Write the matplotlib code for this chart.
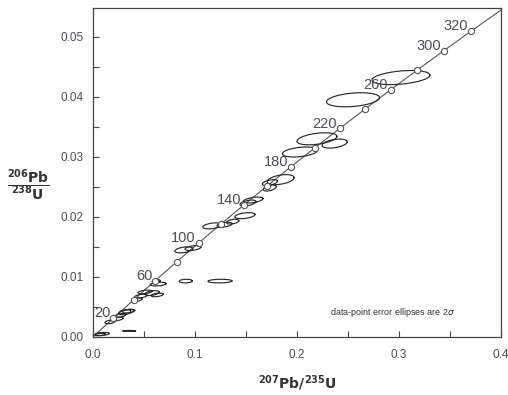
import numpy as np
import matplotlib
matplotlib.use('Agg')
import matplotlib.pyplot as plt

plt.rcParams['font.family'] = ['Liberation Sans', 'DejaVu Sans']

# concordia ages (Ma) and decay constants (1/yr)
lam238 = 1.55125e-10
lam235 = 9.8485e-10
tick_ages = [20, 40, 60, 80, 100, 120, 140, 160, 180, 200, 220, 240, 260, 280, 300, 320]
label_ages = [20, 60, 100, 140, 180, 220, 260, 300, 320]

# error ellipses: centre (207/235, 206/238), half-widths (2 sigma), correlation
ell_x = [0.302, 0.255, 0.2196, 0.237, 0.203, 0.184, 0.1735, 0.1735, 0.157, 0.152,
         0.149, 0.117, 0.129, 0.137, 0.089, 0.098, 0.091, 0.1245, 0.064, 0.062,
         0.051, 0.058, 0.063, 0.043, 0.033, 0.031, 0.035, 0.0235, 0.0167, 0.009,
         0.007, 0.0353, 0.047, 0.027]
ell_y = [0.0432, 0.0395, 0.0330, 0.0322, 0.0308, 0.0262, 0.0257, 0.0248, 0.0228, 0.0223,
         0.0202, 0.0185, 0.0187, 0.0192, 0.0145, 0.0148, 0.0093, 0.0093, 0.0088, 0.0093,
         0.0075, 0.0073, 0.0070, 0.0062, 0.0042, 0.0041, 0.0043, 0.0030, 0.0025, 0.0005,
         0.0004, 0.0010, 0.0068, 0.0036]
ell_sx = [0.0284, 0.026, 0.0196, 0.0123, 0.0172, 0.0132, 0.0074, 0.0064, 0.0098, 0.0078,
          0.0098, 0.0093, 0.0074, 0.006, 0.0088, 0.0078, 0.0064, 0.0118, 0.0078, 0.004,
          0.0069, 0.0069, 0.006, 0.005, 0.0069, 0.006, 0.006, 0.006, 0.005, 0.0069,
          0.005, 0.0064, 0.006, 0.005]
ell_sy = [0.00117, 0.00117, 0.0010, 0.00075, 0.00083, 0.00083, 0.0005, 0.0005, 0.0005, 0.0005,
          0.0005, 0.0005, 0.0004, 0.0004, 0.0005, 0.0004, 0.0003, 0.0003, 0.0003, 0.00025,
          0.0003, 0.0004, 0.0003, 0.0003, 0.0004, 0.0004, 0.0003, 0.0003, 0.0003, 0.00025,
          0.0002, 0.00008, 0.0003, 0.0003]
ell_rho = [0.35, 0.3, 0.4, 0.4, 0.35, 0.4, 0.5, 0.5, 0.5, 0.5,
           0.4, 0.4, 0.4, 0.4, 0.4, 0.4, 0.1, 0.1, 0.3, 0.3,
           0.4, 0.4, 0.4, 0.4, 0.4, 0.4, 0.4, 0.4, 0.4, 0.3,
           0.3, 0.0, 0.4, 0.4]

txt_col = '#4d4d55'

fig = plt.figure(figsize=(5.08, 3.95), dpi=100)
ax = fig.add_axes([0.183, 0.147, 0.803, 0.833])

# concordia curve
t = np.linspace(0, 350e6, 400)
ax.plot(np.exp(lam235 * t) - 1, np.exp(lam238 * t) - 1, color='#555555', lw=0.8, zorder=2)

# error ellipses
th = np.linspace(0, 2 * np.pi, 120)
for cx, cy, sx, sy, r in zip(ell_x, ell_y, ell_sx, ell_sy, ell_rho):
    ex = cx + sx * np.cos(th)
    ey = cy + sy * (r * np.cos(th) + np.sqrt(1 - r ** 2) * np.sin(th))
    ax.plot(ex, ey, color='#2a2a2a', lw=0.85, zorder=3)

# age markers
ta = np.array(tick_ages) * 1e6
ax.plot(np.exp(lam235 * ta) - 1, np.exp(lam238 * ta) - 1, 'o', ms=4.5,
        mfc='white', mec='#555555', mew=0.8, zorder=4)
for a in label_ages:
    xa = np.exp(lam235 * a * 1e6) - 1
    ya = np.exp(lam238 * a * 1e6) - 1
    ax.annotate(str(a), (xa, ya), xytext=(-2, -1.5), textcoords='offset points',
                ha='right', va='bottom', fontsize=10.5, color=txt_col, zorder=5)

ax.set_xlim(0, 0.4)
ax.set_ylim(0, 0.0548)
ax.set_xticks([0.0, 0.1, 0.2, 0.3, 0.4])
ax.set_xticklabels(['0.0', '0.1', '0.2', '0.3', '0.4'])
ax.set_xticks([0.05, 0.15, 0.25, 0.35], minor=True)
ax.set_yticks([0.0, 0.01, 0.02, 0.03, 0.04, 0.05])
ax.set_yticklabels(['0.00', '0.01', '0.02', '0.03', '0.04', '0.05'])
ax.set_yticks([0.005, 0.015, 0.025, 0.035, 0.045], minor=True)
ax.tick_params(which='both', direction='in', length=4, width=0.8, color='#444444',
               labelsize=8.5, labelcolor=txt_col)
ax.tick_params(axis='x', pad=9)
ax.tick_params(axis='y', pad=7)
for s in ax.spines.values():
    s.set_color('#444444')
    s.set_linewidth(0.9)

ax.text(0.294, 0.0040, r'data-point error ellipses are 2$\sigma$', ha='center', va='center',
        fontsize=6.5, color='#333333')

fig.text(0.585, 0.03, r'$^{\mathbf{207}}\mathbf{Pb/}^{\mathbf{235}}\mathbf{U}$', ha='center',
         va='center', fontsize=10, color='#333333')
fig.text(0.057, 0.53, r'$\dfrac{^{\mathbf{206}}\mathbf{Pb}}{^{\mathbf{238}}\mathbf{U}}$', ha='center',
         va='center', fontsize=10, color='#333333')

fig.savefig('out.png', dpi=100)
